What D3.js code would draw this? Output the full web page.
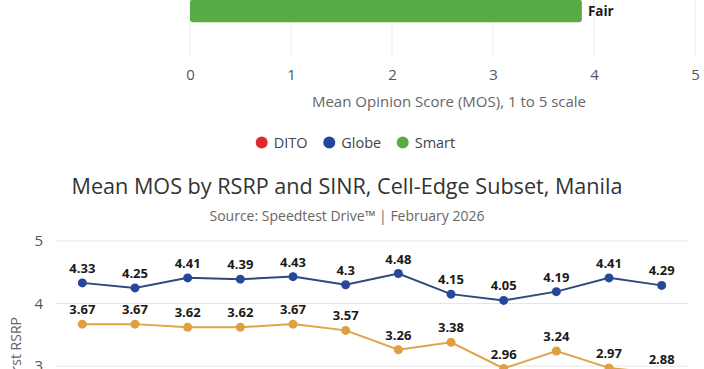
<!DOCTYPE html>
<html>
<head>
<meta charset="utf-8">
<script src="https://cdn.jsdelivr.net/npm/d3@7"></script>
<style>
  html, body { margin: 0; padding: 0; background: #fff; }
  svg { display: block; font-family: "Open Sans", "Noto Sans", sans-serif; }
</style>
</head>
<body>
<svg id="chart" width="704" height="369"></svg>
<script>
// ---- Data: top chart (bottom part visible) ----
const barCategories = ["Smart"];
const barValues = [3.88];
const barLabels = ["Fair"];
const barTicks = [0, 1, 2, 3, 4, 5];
const legendNames = ["DITO", "Globe", "Smart"];
const legendColors = ["#e02a2f", "#24469a", "#58ab45"];

// ---- Data: line chart (top part visible) ----
const lineCategories = ["P1", "P2", "P3", "P4", "P5", "P6", "P7", "P8", "P9", "P10", "P11", "P12"];
const seriesGlobe = [4.33, 4.25, 4.41, 4.39, 4.43, 4.30, 4.48, 4.15, 4.05, 4.19, 4.41, 4.29];
const seriesOrange = [3.67, 3.67, 3.62, 3.62, 3.67, 3.57, 3.26, 3.38, 2.96, 3.24, 2.97, 2.88];
const lineTicks = [1, 2, 3, 4, 5];

const svg = d3.select("#chart");

// ================= TOP BAR CHART =================
const xBar = d3.scaleLinear().domain([0, 5]).range([190, 695]);
const yBar = d3.scaleBand().domain(barCategories).range([-6, 28]).padding(0.2);

const gTop = svg.append("g");
gTop.selectAll("line.vgrid").data(barTicks).join("line")
  .attr("x1", d => xBar(d)).attr("x2", d => xBar(d))
  .attr("y1", 0).attr("y2", 56)
  .attr("stroke", "#ececec").attr("stroke-width", 1);

gTop.selectAll("rect.bar").data(barValues).join("rect")
  .attr("x", xBar(0))
  .attr("y", (d, i) => yBar(barCategories[i]))
  .attr("width", d => xBar(d) - xBar(0))
  .attr("height", yBar.bandwidth())
  .attr("rx", 3)
  .attr("fill", "#59ac45");

gTop.selectAll("text.barlab").data(barValues).join("text")
  .attr("x", d => xBar(d) + 6)
  .attr("y", (d, i) => yBar(barCategories[i]) + yBar.bandwidth() / 2)
  .attr("dy", "0.35em")
  .attr("font-size", 13.5).attr("font-weight", 700).attr("fill", "#1a1a1a")
  .text((d, i) => barLabels[i]);

const xAxisTop = d3.axisBottom(xBar).tickValues(barTicks).tickSize(0).tickPadding(0).tickFormat(d3.format("d"));
const gxa = gTop.append("g").attr("transform", "translate(0,69)").call(xAxisTop);
gxa.select(".domain").remove();
gxa.selectAll("text").attr("font-size", 15).attr("fill", "#555")
  .attr("font-family", "'Open Sans', sans-serif");

gTop.append("text")
  .attr("x", 449).attr("y", 107)
  .attr("text-anchor", "middle")
  .attr("font-size", 15).attr("fill", "#666")
  .text("Mean Opinion Score (MOS), 1 to 5 scale");

// Legend
const legendX = [261.7, 329.3, 402.7];
const gLeg = svg.append("g");
legendNames.forEach((n, i) => {
  gLeg.append("circle").attr("cx", legendX[i]).attr("cy", 142.5).attr("r", 6).attr("fill", legendColors[i]);
  gLeg.append("text").attr("x", legendX[i] + 12).attr("y", 142.5).attr("dy", "0.35em")
    .attr("font-size", 14.5).attr("fill", "#444").text(n);
});

// ================= LINE CHART =================
svg.append("text")
  .attr("x", 347).attr("y", 193.5)
  .attr("text-anchor", "middle")
  .attr("font-size", 21.6).attr("fill", "#333")
  .text("Mean MOS by RSRP and SINR, Cell-Edge Subset, Manila");

svg.append("text")
  .attr("x", 347).attr("y", 221)
  .attr("text-anchor", "middle")
  .attr("font-size", 14).attr("fill", "#666")
  .text("Source: Speedtest Drive™ | February 2026");

const xLine = d3.scalePoint().domain(lineCategories).range([56, 688]).padding(0.5);
const yLine = d3.scaleLinear().domain([1, 5]).range([491, 241]);

const gL = svg.append("g");
gL.selectAll("line.hgrid").data(lineTicks).join("line")
  .attr("x1", 56).attr("x2", 688)
  .attr("y1", d => yLine(d)).attr("y2", d => yLine(d))
  .attr("stroke", "#e6e6e6").attr("stroke-width", 1);

const yAxis = d3.axisLeft(yLine).tickValues(lineTicks).tickSize(0).tickPadding(0).tickFormat(d3.format("d"));
const gya = gL.append("g").attr("transform", "translate(43,0)").call(yAxis);
gya.select(".domain").remove();
gya.selectAll("text").attr("font-size", 15).attr("fill", "#555")
  .attr("font-family", "'Open Sans', sans-serif");

gL.append("text")
  .attr("transform", "translate(21,317) rotate(-90)")
  .attr("text-anchor", "end")
  .attr("font-size", 14).attr("fill", "#666")
  .text("Mean MOS at Worst RSRP");

function drawSeries(values, lineColor, dotColor) {
  const line = d3.line().x((d, i) => xLine(lineCategories[i])).y(d => yLine(d));
  gL.append("path").datum(values)
    .attr("d", line).attr("fill", "none")
    .attr("stroke", lineColor).attr("stroke-width", 2);
  gL.append("g").selectAll("circle").data(values).join("circle")
    .attr("cx", (d, i) => xLine(lineCategories[i]))
    .attr("cy", d => yLine(d))
    .attr("r", 4.5).attr("fill", dotColor);
  gL.append("g").selectAll("text").data(values).join("text")
    .attr("x", (d, i) => xLine(lineCategories[i]))
    .attr("y", d => yLine(d) - 10)
    .attr("text-anchor", "middle")
    .attr("font-size", 13).attr("font-weight", 700).attr("fill", "#1a1a1a")
    .text(d => String(d));
}
drawSeries(seriesOrange, "#e0a448", "#e09f40");
drawSeries(seriesGlobe, "#2c4a7c", "#27479a");
</script>
</body>
</html>
